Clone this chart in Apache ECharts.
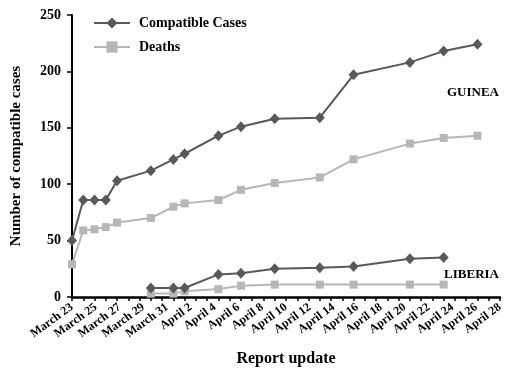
<!DOCTYPE html>
<html>
<head>
<meta charset="utf-8">
<script src="https://cdn.jsdelivr.net/npm/echarts@6/dist/echarts.min.js"></script>
<style>
  html, body { margin: 0; padding: 0; background: #fff; }
  #chart { width: 513px; height: 372px; }
</style>
</head>
<body>
<div id="chart"></div>
<script>
// days counted from March 23
var dateLabels = ["March 23", "March 25", "March 27", "March 29", "March 31", "April 2", "April 4",
  "April 6", "April 8", "April 10", "April 12", "April 14", "April 16", "April 18", "April 20",
  "April 22", "April 24", "April 26", "April 28"];

var guineaDays = [0, 1, 2, 3, 4, 7, 9, 10, 13, 15, 18, 22, 25, 30, 33, 36];
var guineaCases = [50, 86, 86, 86, 103, 112, 122, 127, 143, 151, 158, 159, 197, 208, 218, 224];
var guineaDeaths = [29, 59, 60, 62, 66, 70, 80, 83, 86, 95, 101, 106, 122, 136, 141, 143];

var liberiaDays = [7, 9, 10, 13, 15, 18, 22, 25, 30, 33];
var liberiaCases = [8, 8, 8, 20, 21, 25, 26, 27, 34, 35];
var liberiaDeaths = [3, 3, 5, 7, 10, 11, 11, 11, 11, 11];

var yTicks = [0, 50, 100, 150, 200, 250];

var font = "'Liberation Serif', 'Times New Roman', serif";
var caseColor = "#595959";
var deathColor = "#b7b7b7";

function pairs(days, vals) {
  return days.map(function (d, i) { return [d, vals[i]]; });
}

function caseSeries(days, vals) {
  return {
    name: "Compatible Cases",
    type: "line",
    data: pairs(days, vals),
    symbol: "diamond",
    symbolSize: [10, 11],
    itemStyle: { color: caseColor },
    lineStyle: { color: caseColor, width: 2 },
    z: 3
  };
}

function deathSeries(days, vals) {
  return {
    name: "Deaths",
    type: "line",
    data: pairs(days, vals),
    symbol: "rect",
    symbolSize: 8,
    itemStyle: { color: deathColor },
    lineStyle: { color: deathColor, width: 2 },
    z: 2
  };
}

var myChart = echarts.init(document.getElementById("chart"));
var option = {
  animation: false,
  grid: { left: 72, right: 13, top: 15, bottom: 75 },
  legend: {
    orient: "vertical",
    left: 88,
    top: 11,
    itemWidth: 36,
    itemHeight: 14,
    itemGap: 10,
    data: ["Compatible Cases", "Deaths"],
    textStyle: { fontFamily: font, fontWeight: "bold", fontSize: 14, color: "#000", padding: [0, 0, 0, 4] }
  },
  xAxis: [
    {
      // data axis: one tick per day
      type: "value",
      min: 0,
      max: 38,
      interval: 1,
      axisLine: { lineStyle: { color: "#000", width: 2.5 } },
      axisTick: { show: true, length: 4, lineStyle: { color: "#000", width: 1.5 } },
      axisLabel: { show: false },
      splitLine: { show: false },
      name: "Report update",
      nameLocation: "middle",
      nameGap: 54,
      nameTextStyle: { fontFamily: font, fontWeight: "bold", fontSize: 16, color: "#000" }
    },
    {
      // label axis: date labels spread across the axis
      type: "category",
      position: "bottom",
      boundaryGap: false,
      data: dateLabels,
      axisLine: { show: false },
      axisTick: { show: false },
      axisLabel: {
        interval: 0,
        hideOverlap: false,
        rotate: 36,
        margin: 9,
        fontFamily: font,
        fontWeight: "bold",
        fontSize: 12,
        color: "#000"
      }
    }
  ],
  yAxis: {
    type: "value",
    min: yTicks[0],
    max: yTicks[yTicks.length - 1],
    interval: 50,
    axisLine: { show: true, lineStyle: { color: "#000", width: 2 } },
    axisTick: { show: true, length: 5, lineStyle: { color: "#000", width: 1.5 } },
    axisLabel: { margin: 11, fontFamily: font, fontWeight: "bold", fontSize: 14, color: "#000" },
    splitLine: { show: false },
    name: "Number of compatible cases",
    nameLocation: "middle",
    nameGap: 48,
    nameTextStyle: { fontFamily: font, fontWeight: "bold", fontSize: 15, color: "#000" }
  },
  graphic: [
    {
      type: "text",
      right: 14,
      top: 86,
      style: { text: "GUINEA", font: "bold 13px " + font, fill: "#000" }
    },
    {
      type: "text",
      right: 14,
      top: 268,
      style: { text: "LIBERIA", font: "bold 13px " + font, fill: "#000" }
    }
  ],
  series: [
    caseSeries(guineaDays, guineaCases),
    deathSeries(guineaDays, guineaDeaths),
    caseSeries(liberiaDays, liberiaCases),
    deathSeries(liberiaDays, liberiaDeaths)
  ]
};
myChart.setOption(option);
</script>
</body>
</html>
